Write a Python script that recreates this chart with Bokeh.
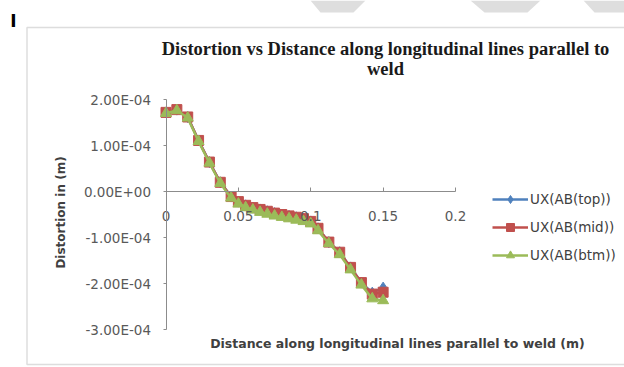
from bokeh.plotting import figure
from bokeh.models import (Range1d, FixedTicker, CustomJSTickFormatter, Label, Legend,
                          LegendItem, BoxAnnotation)
from bokeh.embed import file_html
from bokeh.resources import INLINE

# ---- data (distance in m, distortion in m) ----
distance = [0, 0.0075, 0.015, 0.0225, 0.03, 0.0375, 0.045, 0.05, 0.055, 0.06, 0.065,
            0.07, 0.075, 0.08, 0.085, 0.09, 0.095, 0.1, 0.105, 0.1125, 0.12, 0.1275,
            0.135, 0.1425, 0.15]
ux_top = [1.72e-4, 1.78e-4, 1.62e-4, 1.11e-4, 0.64e-4, 0.20e-4, -0.11e-4, -0.22e-4,
          -0.30e-4, -0.35e-4, -0.39e-4, -0.43e-4, -0.47e-4, -0.50e-4, -0.53e-4,
          -0.56e-4, -0.59e-4, -0.65e-4, -0.80e-4, -1.10e-4, -1.32e-4, -1.65e-4,
          -1.98e-4, -2.20e-4, -2.09e-4]
ux_mid = [1.72e-4, 1.78e-4, 1.62e-4, 1.11e-4, 0.64e-4, 0.20e-4, -0.11e-4, -0.22e-4,
          -0.30e-4, -0.35e-4, -0.39e-4, -0.43e-4, -0.47e-4, -0.50e-4, -0.53e-4,
          -0.56e-4, -0.59e-4, -0.65e-4, -0.80e-4, -1.10e-4, -1.32e-4, -1.65e-4,
          -1.98e-4, -2.23e-4, -2.19e-4]
ux_btm = [1.70e-4, 1.76e-4, 1.60e-4, 1.09e-4, 0.62e-4, 0.18e-4, -0.14e-4, -0.27e-4,
          -0.35e-4, -0.40e-4, -0.45e-4, -0.49e-4, -0.53e-4, -0.56e-4, -0.59e-4,
          -0.62e-4, -0.65e-4, -0.70e-4, -0.85e-4, -1.13e-4, -1.37e-4, -1.70e-4,
          -2.03e-4, -2.33e-4, -2.37e-4]
series_names = ["UX(AB(top))", "UX(AB(mid))", "UX(AB(btm))"]
x_ticks = [0, 0.05, 0.1, 0.15, 0.2]
x_tick_labels = ["0", "0.05", "0.1", "0.15", "0.2"]
y_ticks = [-3e-4, -2e-4, -1e-4, 0, 1e-4, 2e-4]

title_lines = ["Distortion vs Distance along longitudinal lines parallel to", "weld"]
x_title = "Distance along longitudinal lines parallel to weld (m)"
y_title = "Distortion in (m)"

SANS = "DejaVu Sans"
W, H = 624, 367

# pixel geometry of the plotting area (x: 0 -> 0.2, y: -3e-4 -> 2e-4)
X0_PX, X1_PX = 165.5, 455.0
Y0_PX, Y1_PX = 329.0, 99.0   # pixel rows of y = -3e-4 and y = 2e-4
kx = (x_ticks[-1] - x_ticks[0]) / (X1_PX - X0_PX)
ky = (y_ticks[-1] - y_ticks[0]) / (Y0_PX - Y1_PX)


def dx(px):
    return x_ticks[0] + (px - X0_PX) * kx


def dy(py):
    return y_ticks[0] + (Y0_PX - py) * ky


p = figure(width=W, height=H, output_backend="svg", toolbar_location=None,
           x_range=Range1d(dx(0), dx(W)), y_range=Range1d(dy(H), dy(0)),
           min_border=0)
p.outline_line_color = None
p.grid.visible = False
p.background_fill_color = "white"
p.border_fill_color = "white"

# faint background watermark fragments at the top of the page
for poly in [[(310, 0), (365, 0), (353, 12), (320, 12)],
             [(470, 0), (540, 0), (527, 12), (484, 12)],
             [(583, 0), (624, 0), (624, 12), (594, 12)]]:
    p.patch([dx(a) for a, b in poly], [dy(b) for a, b in poly],
            fill_color="#dedede", line_color=None, level="underlay")

# chart-area border
p.add_layout(BoxAnnotation(left=dx(26.5), right=dx(W + 20), top=dy(27), bottom=dy(364),
                           fill_alpha=0, line_color="#8f8f8f", line_width=1.5,
                           level="underlay"))

axis_col = "#8c8c8c"
lab_col = "#595959"

xa = p.xaxis[0]
xa.fixed_location = 0
xa.bounds = (x_ticks[0], x_ticks[-1])
xa.ticker = FixedTicker(ticks=x_ticks)
xa.major_label_overrides = {t: s for t, s in zip(x_ticks, x_tick_labels)}
xa.axis_line_color = axis_col
xa.major_tick_line_color = axis_col
xa.major_tick_in = 4
xa.major_tick_out = 0
xa.minor_tick_line_color = None
xa.major_label_standoff = 19
xa.major_label_text_font = SANS
xa.major_label_text_font_size = "13.5px"
xa.major_label_text_color = lab_col

ya = p.yaxis[0]
ya.fixed_location = 0
ya.bounds = (y_ticks[0], y_ticks[-1])
ya.ticker = FixedTicker(ticks=y_ticks)
ya.formatter = CustomJSTickFormatter(code="""
var s = tick.toExponential(2).toUpperCase();
var parts = s.split('E');
var e = parseInt(parts[1]);
var a = Math.abs(e);
return parts[0] + 'E' + (e < 0 ? '-' : '+') + (a < 10 ? '0' : '') + a;
""")
ya.axis_line_color = axis_col
ya.major_tick_line_color = axis_col
ya.major_tick_in = 0
ya.major_tick_out = 3
ya.minor_tick_line_color = None
ya.major_label_standoff = 12
ya.major_label_text_font = SANS
ya.major_label_text_font_size = "13.5px"
ya.major_label_text_color = lab_col

colors = ["#4F81BD", "#C0504D", "#9BBB59"]
markers = ["diamond", "square", "triangle"]
sizes = [11, 10, 11]
items = []
for name, ys, c, m, s in zip(series_names, [ux_top, ux_mid, ux_btm], colors, markers, sizes):
    ln = p.line(distance, ys, line_color=c, line_width=2.5)
    sc = p.scatter(distance, ys, marker=m, size=s, fill_color=c, line_color=c)
    items.append(LegendItem(label=name, renderers=[ln, sc]))

legend = Legend(items=items, location=(492, H - 265), glyph_width=36, glyph_height=20,
                label_height=20, spacing=8, label_standoff=2, padding=0, margin=0,
                border_line_color=None, background_fill_alpha=0,
                label_text_font=SANS, label_text_font_size="13.5px",
                label_text_color="#404040")
p.add_layout(legend)


def add_text(px, py, text, font, size, style="normal", color="#404040", angle=0.0):
    p.add_layout(Label(x=dx(px), y=dy(py), text=text, text_align="center",
                       text_baseline="middle", text_font=font, text_font_style=style,
                       text_font_size=size, text_color=color, angle=angle))


for i, t in enumerate(title_lines):
    add_text(385, 48 + 20 * i, t, "Liberation Serif", "18.5px", "bold", "#1a1a1a")
add_text(397, 343, x_title, SANS, "12.5px", "bold")
add_text(60, 212, y_title, SANS, "12px", "bold", angle=1.5707963)
add_text(13, 20, "I", SANS, "17px", "bold", "#000000")

open("out.html", "w").write(file_html(p, INLINE))
